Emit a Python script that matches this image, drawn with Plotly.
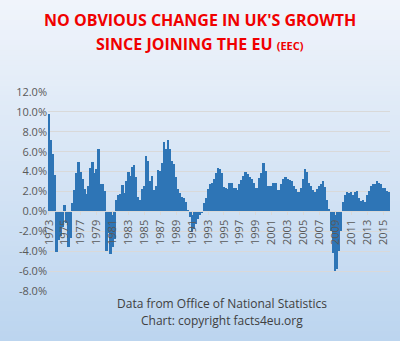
import plotly.graph_objects as go

# ---- data (UK GDP growth, year-on-year %, quarterly 1973Q1 - 2015Q4) ----
years = list(range(1973, 2016))
quarters = [f"{y} Q{q}" for y in years for q in (1, 2, 3, 4)]
growth = [
    9.8, 7.2, 5.8, 3.7,            # 1973
    -4.1, -2.9, -2.5, -1.6,        # 1974
    0.6, -1.2, -3.6, -2.7,         # 1975
    0.8, 2.2, 3.9, 5.0,            # 1976
    4.0, 3.3, 2.3, 1.7,            # 1977
    2.6, 4.4, 5.0, 3.9,            # 1978
    4.3, 6.3, 2.8, 2.8,            # 1979
    2.1, -4.0, -2.2, -4.3,         # 1980
    -3.6, -2.8, 1.1, 1.6,          # 1981
    1.7, 2.7, 1.8, 3.1,            # 1982
    4.0, 3.6, 4.5, 4.7,            # 1983
    3.5, 1.4, 1.1, 2.3,            # 1984
    2.6, 5.6, 5.1, 3.1,            # 1985
    3.6, 2.2, 2.6, 4.2,            # 1986
    4.1, 4.9, 7.0, 6.3,            # 1987
    7.2, 6.3, 5.1, 4.8,            # 1988
    3.5, 2.3, 1.8, 1.4,            # 1989
    1.3, 0.9, 0.1, -0.6,           # 1990
    -2.1, -1.8, -1.3, -0.8,        # 1991
    -0.4, -0.2, 0.8, 1.3,          # 1992
    2.3, 2.8, 2.9, 3.3,            # 1993
    3.9, 4.4, 4.3, 3.9,            # 1994
    2.5, 2.4, 2.3, 2.9,            # 1995
    2.9, 2.4, 2.4, 2.2,            # 1996
    2.8, 3.2, 3.6, 4.0,            # 1997
    3.8, 3.5, 3.3, 2.9,            # 1998
    2.4, 2.4, 3.4, 3.9,            # 1999
    4.9, 4.1, 2.6, 2.6,            # 2000
    2.6, 2.9, 2.9, 2.2,            # 2001
    2.2, 2.8, 3.3, 3.5,            # 2002
    3.3, 3.2, 3.1, 2.6,            # 2003
    2.3, 2.0, 2.0, 2.4,            # 2004
    3.3, 4.3, 4.0, 2.9,            # 2005
    2.6, 2.2, 1.9, 2.3,            # 2006
    2.6, 2.8, 3.1, 2.5,            # 2007
    1.1, 0.2, -2.0, -4.2,          # 2008
    -6.0, -5.8, -4.0, -2.0,        # 2009
    0.9, 1.6, 2.0, 1.8,            # 2010
    2.0, 1.6, 2.0, 2.1,            # 2011
    1.3, 1.0, 1.1, 0.9,            # 2012
    1.6, 2.1, 2.6, 2.8,            # 2013
    2.8, 3.1, 2.9, 2.8,            # 2014
    2.4, 2.4, 2.1, 2.0,            # 2015
]
tick_years = list(range(1973, 2016, 2))
tick_vals = [f"{y} Q1" for y in tick_years]
tick_text = [str(y) for y in tick_years]
y_ticks = [-8, -6, -4, -2, 0, 2, 4, 6, 8, 10, 12]

title_line1 = "NO OBVIOUS CHANGE IN UK'S GROWTH"
title_line2 = "SINCE JOINING THE EU"
source_line1 = "Data from Office of National Statistics"
source_line2 = "Chart: copyright facts4eu.org"

# ---- geometry ----
W, H = 400, 341
ML, MR, MT, MB = 48, 10, 92, 50
PW, PH = W - ML - MR, H - MT - MB
YMIN, YMAX = -8, 12


def px_x(px):
    return (px - ML) / PW


def px_y(py):
    return (H - MB - py) / PH


fig = go.Figure()
fig.add_trace(go.Bar(
    x=quarters, y=growth,
    marker=dict(color="#2E75B6", line=dict(width=0)),
    hoverinfo="x+y",
))

# gradient background strips
shapes = []
N = 68
top = (240, 244, 251)
bot = (188, 213, 239)
for i in range(N):
    t = i / (N - 1)
    c = tuple(round(top[k] + (bot[k] - top[k]) * t) for k in range(3))
    y0 = i * H / N
    y1 = (i + 1) * H / N + 0.6
    shapes.append(dict(
        type="rect", xref="paper", yref="paper", layer="below",
        x0=px_x(0), x1=px_x(W), y0=px_y(y1), y1=px_y(y0),
        fillcolor=f"rgb{c}", line=dict(width=0),
    ))

annotations = [
    dict(text=f"<b>{title_line1}</b>", x=px_x(200), y=px_y(20), xref="paper", yref="paper",
         showarrow=False, xanchor="center", yanchor="middle",
         font=dict(family="Open Sans", size=16, color="#F00000")),
    dict(text=f"<b>{title_line2}</b> <b><span style='font-size:11px'>(EEC)</span></b>",
         x=px_x(200), y=px_y(44), xref="paper", yref="paper",
         showarrow=False, xanchor="center", yanchor="middle",
         font=dict(family="Open Sans", size=16, color="#F00000")),
    dict(text=source_line1, x=px_x(222), y=px_y(303), xref="paper", yref="paper",
         showarrow=False, xanchor="center", yanchor="middle",
         font=dict(family="Open Sans", size=12, color="#404040")),
    dict(text=source_line2, x=px_x(222), y=px_y(320), xref="paper", yref="paper",
         showarrow=False, xanchor="center", yanchor="middle",
         font=dict(family="Open Sans", size=12, color="#404040")),
]

fig.update_layout(
    width=W, height=H,
    margin=dict(l=ML, r=MR, t=MT, b=MB),
    paper_bgcolor="#E6EEF8",
    plot_bgcolor="rgba(0,0,0,0)",
    bargap=0,
    showlegend=False,
    shapes=shapes,
    annotations=annotations,
    font=dict(family="Open Sans", color="#595959"),
    xaxis=dict(
        type="category",
        categoryorder="array", categoryarray=quarters,
        tickmode="array", tickvals=tick_vals, ticktext=tick_text,
        tickangle=-90,
        tickfont=dict(size=11, color="#595959"),
        anchor="free", position=(0 - YMIN) / (YMAX - YMIN),
        showgrid=False, zeroline=False,
        showline=True, linecolor="#D9D9D9", linewidth=1,
        ticks="outside", ticklen=3, tickcolor="#D9D9D9",
        range=[-0.5, len(quarters) - 0.5],
    ),
    yaxis=dict(
        range=[YMIN, YMAX],
        tickmode="array", tickvals=y_ticks,
        ticktext=[f"{v:.1f}%" for v in y_ticks],
        tickfont=dict(size=11, color="#595959"),
        showgrid=True, gridcolor="#D9D9D9", gridwidth=1,
        zeroline=False, showline=False, ticks="",
    ),
)

fig.write_html("out.html")
